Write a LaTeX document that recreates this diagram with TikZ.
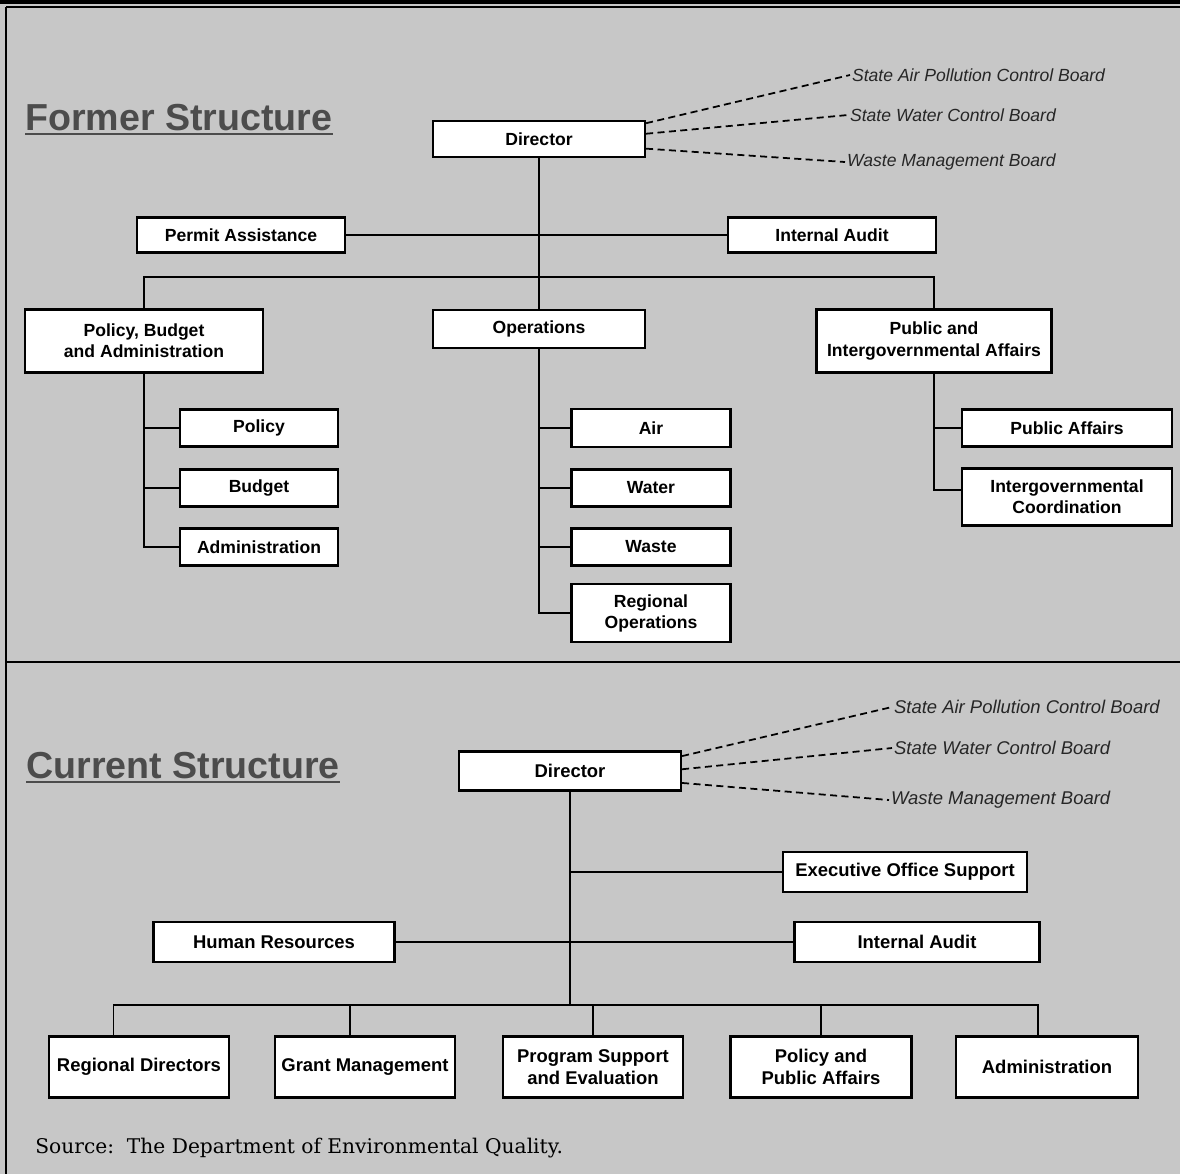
\documentclass[tikz,border=0pt]{standalone}
\usepackage{fontspec}
\setsansfont{Liberation Sans}
\newfontfamily\srcfont{DejaVu Serif}
\usetikzlibrary{calc}

\begin{document}
\begin{tikzpicture}[x=0.02cm,y=-0.02cm]
\tikzstyle{every node}+=[inner sep=0pt]
\tikzstyle{unit}=[draw=black,fill=white,line width=1.3pt,align=center,font=\sffamily\bfseries\fontsize{10}{12}\selectfont]
\tikzstyle{unitb}=[unit,font=\sffamily\bfseries\fontsize{10.5}{12.5}\selectfont]
\tikzstyle{link}=[black,line width=1.1pt]
\tikzstyle{board}=[black,line width=1pt,dash pattern=on 4pt off 2.5pt]
\tikzstyle{boardname}=[anchor=west,inner sep=1pt,text=black!85,font=\sffamily\itshape\fontsize{10}{12}\selectfont]
\tikzstyle{heading}=[anchor=base west,text=black!70,font=\sffamily\bfseries\fontsize{21.4}{24}\selectfont]
\useasboundingbox (0,0) rectangle (1180,1174);
\fill [black!22] (0,0) rectangle (1180,1174);
\draw [black,line width=2pt] (0,2) -- (1180,2);
\draw [black,line width=1pt] (6,7) -- (1180,7);
\draw [black,line width=1pt] (6,7) -- (6,1174);
\draw [black,line width=1.3pt] (6,662) -- (1180,662);
% former structure
\node [heading] (ttlA) at (25,130) {Former Structure};
\draw [black!70,line width=1.6pt] ([yshift=-2.3pt]ttlA.base west) -- ([yshift=-2.3pt]ttlA.base east);
\node [unit,minimum width=42.4mm,minimum height=7.2mm] (dirA) at (539,139) {Director};
\node [boardname] (sapcbA) at (850,75) {State Air Pollution Control Board};
\node [boardname] (swcbA) at (848,115) {State Water Control Board};
\node [boardname] (wmbA) at (845,162) {Waste Management Board};
\node [unit,minimum width=41.6mm,minimum height=7mm] (permit) at (241,235) {Permit Assistance};
\node [unit,minimum width=41.6mm,minimum height=7mm] (auditA) at (832,235) {Internal Audit};
\node [unit,minimum width=47.6mm,minimum height=12.6mm] (pba) at (144,341) {Policy, Budget\\and Administration};
\node [unit,minimum width=42.4mm,minimum height=7.6mm] (ops) at (539,329) {Operations};
\node [unit,minimum width=47mm,minimum height=12.6mm] (pia) at (934,341) {Public and\\Intergovernmental Affairs};
\node [unit,minimum width=31.6mm,minimum height=7.4mm] (policy) at (259,428) {Policy};
\node [unit,minimum width=31.6mm,minimum height=7.4mm] (budget) at (259,488) {Budget};
\node [unit,minimum width=31.6mm,minimum height=7.4mm] (admA) at (259,547) {Administration};
\node [unit,minimum width=31.8mm,minimum height=7.6mm] (air) at (651,428) {Air};
\node [unit,minimum width=31.8mm,minimum height=7.4mm] (water) at (651,488) {Water};
\node [unit,minimum width=31.8mm,minimum height=7.4mm] (waste) at (651,547) {Waste};
\node [unit,minimum width=31.8mm,minimum height=11.6mm] (regops) at (651,613) {Regional\\Operations};
\node [unit,minimum width=42mm,minimum height=7.4mm] (pubaff) at (1067,428) {Public Affairs};
\node [unit,minimum width=42mm,minimum height=11.4mm] (igc) at (1067,497) {Intergovernmental\\Coordination};
\draw [board] ([yshift=9pt]dirA.east) -- (sapcbA.west);
\draw [board] ([yshift=3pt]dirA.east) -- (swcbA.west);
\draw [board] ([yshift=-5.5pt]dirA.east) -- (wmbA.west);
\draw [link] (dirA) -- (ops);
\draw [link] (permit.east) -- (auditA.west);
\coordinate (busA) at (539,277);
\draw [link] (pba.north) |- (busA) -| (pia.north);
\draw [link] (pba.south) |- (admA.west);
\foreach \n in {policy,budget} \draw [link] (pba.south |- \n.west) -- (\n.west);
\draw [link] (ops.south) |- (regops.west);
\foreach \n in {air,water,waste} \draw [link] (ops.south |- \n.west) -- (\n.west);
\draw [link] (pia.south) |- ([yshift=4pt]igc.west);
\draw [link] (pia.south |- pubaff.west) -- (pubaff.west);
% current structure
\node [heading] (ttlB) at (26,778) {Current Structure};
\draw [black!70,line width=1.6pt] ([yshift=-2.3pt]ttlB.base west) -- ([yshift=-2.3pt]ttlB.base east);
\node [unitb,minimum width=44.4mm,minimum height=7.8mm] (dirB) at (570,771) {Director};
\node [boardname,font=\sffamily\itshape\fontsize{10.5}{12}\selectfont] (sapcbB) at (892,707) {State Air Pollution Control Board};
\node [boardname,font=\sffamily\itshape\fontsize{10.5}{12}\selectfont] (swcbB) at (892,748) {State Water Control Board};
\node [boardname,font=\sffamily\itshape\fontsize{10.5}{12}\selectfont] (wmbB) at (889,800) {Waste Management Board};
\node [unitb,minimum width=48.8mm,minimum height=8mm] (eos) at (905,872) {Executive Office Support};
\node [unitb,minimum width=48.2mm,minimum height=8mm] (hr) at (274,942) {Human Resources};
\node [unitb,minimum width=49mm,minimum height=8mm] (auditB) at (917,942) {Internal Audit};
\node [unitb,minimum width=36mm,minimum height=12.2mm] (regdir) at (139,1067) {Regional Directors};
\node [unitb,minimum width=36mm,minimum height=12.2mm] (grant) at (365,1067) {Grant Management};
\node [unitb,minimum width=36mm,minimum height=12.2mm] (psupp) at (593,1067) {Program Support\\and Evaluation};
\node [unitb,minimum width=36.2mm,minimum height=12.2mm] (ppa) at (821,1067) {Policy and\\Public Affairs};
\node [unitb,minimum width=36.4mm,minimum height=12.2mm] (admB) at (1047,1067) {Administration};
\draw [board] ([yshift=8.5pt]dirB.east) -- (sapcbB.west);
\draw [board] ([yshift=1pt]dirB.east) -- (swcbB.west);
\draw [board] ([yshift=-6.8pt]dirB.east) -- (wmbB.west);
\coordinate (busB) at (570,1005);
\draw [link] (dirB) -- (busB);
\draw [link] (dirB |- eos.west) -- (eos.west);
\draw [link] (hr.east) -- (auditB.west);
\draw [link] ($(regdir.north west)!.36!(regdir.north east)$) |- (busB) -| ($(admB.north west)!.45!(admB.north east)$);
\draw [link] ($(grant.north west)!.42!(grant.north east)$) |- (busB);
\draw [link] (psupp.north) |- (busB);
\draw [link] (ppa.north) |- (busB);
\node [anchor=base west,font=\srcfont\fontsize{11.5}{13}\selectfont] (src) at (35,1153) {Source:\ \ The Department of Environmental Quality.};
\end{tikzpicture}
\end{document}
